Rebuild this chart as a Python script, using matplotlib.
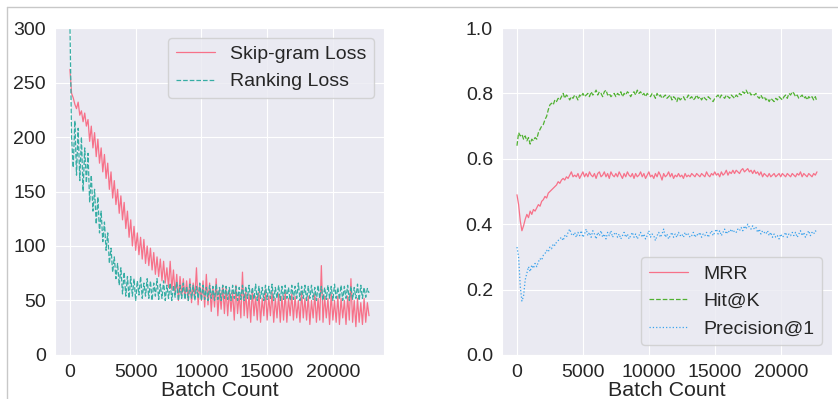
import numpy as np
import matplotlib
matplotlib.use("Agg")
import matplotlib.pyplot as plt
import seaborn as sns
from matplotlib.lines import Line2D

# batch count sampled every 125 batches (183 points, 0 .. 22750)
batch_count = np.arange(0, 22751, 125)

skipgram_loss = [262, 240, 236, 230, 226, 232, 220, 224, 214, 222, 210, 216,
                 196, 210, 190, 204, 182, 198, 176, 190, 168, 184, 162, 176,
                 152, 168, 144, 160, 138, 152, 130, 146, 124, 140, 116, 132,
                 108, 124, 100, 118, 96, 112, 92, 108, 88, 106, 84, 100,
                 82, 98, 78, 94, 74, 90, 72, 88, 68, 86, 66, 80,
                 62, 86, 60, 78, 56, 74, 50, 72, 54, 70, 52, 68,
                 50, 70, 48, 66, 52, 80, 46, 64, 50, 68, 44, 74,
                 46, 66, 40, 62, 44, 70, 36, 60, 42, 64, 38, 62,
                 36, 60, 40, 58, 32, 64, 38, 56, 34, 76, 36, 58,
                 34, 56, 30, 60, 36, 54, 32, 58, 30, 52, 36, 60,
                 32, 54, 36, 58, 30, 52, 34, 56, 30, 54, 32, 58,
                 30, 52, 36, 56, 32, 54, 34, 50, 30, 58, 34, 52,
                 32, 54, 28, 50, 34, 56, 30, 52, 32, 82, 30, 54,
                 34, 52, 28, 56, 32, 50, 30, 54, 28, 52, 34, 50,
                 28, 54, 32, 70, 30, 50, 26, 52, 30, 48, 28, 52,
                 30, 48, 36]

ranking_loss = [305, 200, 172, 215, 165, 208, 160, 200, 150, 190, 158, 185,
                140, 165, 132, 152, 120, 145, 112, 132, 104, 122, 96, 112,
                84, 98, 76, 90, 70, 84, 64, 80, 56, 76, 54, 72,
                52, 72, 54, 70, 50, 68, 55, 72, 52, 66, 54, 70,
                52, 68, 50, 66, 54, 70, 51, 65, 52, 68, 50, 64,
                52, 66, 50, 64, 53, 67, 50, 64, 52, 66, 51, 63,
                50, 65, 52, 64, 50, 63, 52, 66, 50, 64, 51, 62,
                50, 64, 52, 63, 50, 65, 51, 62, 50, 64, 52, 63,
                51, 62, 50, 64, 52, 63, 50, 62, 51, 64, 50, 63,
                52, 64, 50, 62, 51, 65, 50, 63, 52, 62, 50, 64,
                51, 63, 52, 65, 50, 62, 52, 64, 50, 63, 51, 64,
                52, 62, 50, 64, 51, 63, 52, 66, 50, 63, 52, 64,
                50, 63, 52, 64, 51, 62, 50, 64, 52, 63, 50, 62,
                51, 64, 52, 63, 50, 65, 52, 62, 51, 64, 50, 63,
                52, 64, 50, 63, 51, 62, 52, 65, 50, 64, 52, 62,
                53, 61, 57]

mrr = [0.49, 0.46, 0.41, 0.38, 0.395, 0.415, 0.43, 0.42, 0.44, 0.43, 0.445, 0.44,
       0.45, 0.46, 0.455, 0.47, 0.475, 0.485, 0.48, 0.495, 0.50, 0.505, 0.51, 0.515,
       0.52, 0.53, 0.525, 0.535, 0.54, 0.535, 0.545, 0.54, 0.55, 0.56, 0.545, 0.55,
       0.545, 0.555, 0.54, 0.55, 0.56, 0.545, 0.555, 0.545, 0.56, 0.55, 0.545, 0.555,
       0.54, 0.555, 0.56, 0.545, 0.55, 0.56, 0.545, 0.555, 0.54, 0.56, 0.55, 0.545,
       0.555, 0.545, 0.56, 0.55, 0.54, 0.555, 0.545, 0.56, 0.55, 0.545, 0.555, 0.54,
       0.555, 0.545, 0.55, 0.56, 0.545, 0.555, 0.54, 0.55, 0.56, 0.545, 0.55, 0.54,
       0.555, 0.545, 0.56, 0.55, 0.535, 0.555, 0.545, 0.55, 0.56, 0.545, 0.555, 0.54,
       0.55, 0.545, 0.555, 0.545, 0.55, 0.54, 0.555, 0.545, 0.55, 0.545, 0.555, 0.55,
       0.545, 0.555, 0.55, 0.545, 0.555, 0.55, 0.545, 0.56, 0.55, 0.545, 0.555, 0.55,
       0.56, 0.55, 0.555, 0.545, 0.56, 0.55, 0.555, 0.565, 0.55, 0.56, 0.555, 0.565,
       0.555, 0.565, 0.56, 0.555, 0.565, 0.57, 0.56, 0.565, 0.57, 0.56, 0.565, 0.555,
       0.565, 0.555, 0.56, 0.55, 0.56, 0.545, 0.555, 0.55, 0.545, 0.555, 0.545, 0.55,
       0.555, 0.545, 0.55, 0.555, 0.545, 0.555, 0.55, 0.545, 0.555, 0.55, 0.545, 0.555,
       0.55, 0.545, 0.555, 0.55, 0.56, 0.545, 0.555, 0.55, 0.545, 0.555, 0.55, 0.545,
       0.555, 0.55, 0.56]

hit_at_k = [0.64, 0.68, 0.67, 0.675, 0.66, 0.67, 0.655, 0.665, 0.645, 0.66, 0.655, 0.665,
            0.66, 0.68, 0.69, 0.70, 0.705, 0.72, 0.73, 0.75, 0.765, 0.77, 0.765, 0.78,
            0.775, 0.785, 0.78, 0.79, 0.80, 0.785, 0.795, 0.79, 0.78, 0.79, 0.785, 0.795,
            0.79, 0.78, 0.795, 0.79, 0.80, 0.79, 0.795, 0.80, 0.79, 0.805, 0.795, 0.80,
            0.81, 0.795, 0.805, 0.80, 0.79, 0.805, 0.81, 0.795, 0.80, 0.79, 0.795, 0.80,
            0.79, 0.80, 0.795, 0.805, 0.79, 0.80, 0.795, 0.805, 0.80, 0.79, 0.80, 0.805,
            0.795, 0.81, 0.80, 0.805, 0.795, 0.80, 0.79, 0.80, 0.795, 0.79, 0.80, 0.795,
            0.785, 0.80, 0.79, 0.795, 0.785, 0.79, 0.795, 0.785, 0.79, 0.795, 0.78, 0.79,
            0.785, 0.775, 0.79, 0.78, 0.785, 0.79, 0.78, 0.785, 0.795, 0.785, 0.79, 0.78,
            0.785, 0.795, 0.785, 0.79, 0.78, 0.79, 0.785, 0.78, 0.79, 0.785, 0.78, 0.775,
            0.785, 0.79, 0.795, 0.785, 0.795, 0.79, 0.785, 0.795, 0.79, 0.785, 0.795, 0.79,
            0.785, 0.795, 0.79, 0.80, 0.795, 0.805, 0.80, 0.81, 0.80, 0.805, 0.795, 0.80,
            0.795, 0.80, 0.79, 0.785, 0.795, 0.785, 0.79, 0.78, 0.785, 0.775, 0.785, 0.78,
            0.775, 0.785, 0.78, 0.79, 0.785, 0.78, 0.79, 0.795, 0.785, 0.80, 0.795, 0.805,
            0.80, 0.79, 0.795, 0.785, 0.79, 0.795, 0.785, 0.79, 0.78, 0.79, 0.785, 0.79,
            0.78, 0.79, 0.775]

precision_at_1 = [0.33, 0.30, 0.21, 0.165, 0.18, 0.23, 0.25, 0.27, 0.255, 0.275, 0.265, 0.28,
                  0.27, 0.285, 0.295, 0.29, 0.305, 0.31, 0.32, 0.315, 0.33, 0.325, 0.34, 0.335,
                  0.345, 0.35, 0.355, 0.36, 0.35, 0.365, 0.36, 0.375, 0.385, 0.37, 0.365, 0.375,
                  0.36, 0.375, 0.365, 0.38, 0.36, 0.37, 0.385, 0.365, 0.375, 0.36, 0.38, 0.37,
                  0.355, 0.375, 0.365, 0.38, 0.36, 0.37, 0.355, 0.375, 0.365, 0.38, 0.36, 0.37,
                  0.375, 0.36, 0.37, 0.355, 0.365, 0.375, 0.36, 0.37, 0.355, 0.365, 0.375, 0.36,
                  0.37, 0.355, 0.365, 0.375, 0.36, 0.37, 0.355, 0.365, 0.38, 0.36, 0.37, 0.365,
                  0.35, 0.365, 0.375, 0.36, 0.37, 0.385, 0.36, 0.37, 0.355, 0.365, 0.375, 0.36,
                  0.37, 0.36, 0.375, 0.365, 0.37, 0.36, 0.375, 0.365, 0.37, 0.36, 0.365, 0.375,
                  0.36, 0.37, 0.365, 0.375, 0.36, 0.37, 0.365, 0.375, 0.36, 0.37, 0.38, 0.365,
                  0.375, 0.385, 0.37, 0.38, 0.365, 0.375, 0.385, 0.37, 0.38, 0.375, 0.385, 0.375,
                  0.38, 0.375, 0.385, 0.38, 0.39, 0.38, 0.395, 0.385, 0.40, 0.39, 0.385, 0.395,
                  0.385, 0.39, 0.375, 0.385, 0.37, 0.38, 0.375, 0.37, 0.38, 0.365, 0.375, 0.36,
                  0.37, 0.36, 0.365, 0.355, 0.37, 0.36, 0.365, 0.375, 0.36, 0.37, 0.365, 0.375,
                  0.365, 0.375, 0.36, 0.37, 0.38, 0.365, 0.375, 0.36, 0.37, 0.38, 0.365, 0.375,
                  0.37, 0.38, 0.375]

sns.set_style("darkgrid")
plt.rcParams['font.family'] = ['Liberation Sans', 'DejaVu Sans']

pal2 = sns.color_palette("husl", 2)
pal3 = sns.color_palette("husl", 3)

fig = plt.figure(figsize=(8.38, 3.99), dpi=100)
ax1 = fig.add_axes([0.0656, 0.1103, 0.3926, 0.8195])
ax2 = fig.add_axes([0.599, 0.1103, 0.3938, 0.8195])

ax1.plot(batch_count, skipgram_loss, linestyle='-', linewidth=0.9, color=pal2[0], label='Skip-gram Loss')
ax1.plot(batch_count, ranking_loss, linestyle='--', linewidth=0.9, color=pal2[1], label='Ranking Loss')
ax1.set_ylim(0, 300)
ax1.set_xticks([0, 5000, 10000, 15000, 20000])
ax1.set_xlabel('Batch Count', fontsize=15.4, labelpad=0)
ax1.tick_params(labelsize=14, pad=3)
ax1.legend(loc='upper right', fontsize=14)

ax2.plot(batch_count, mrr, linestyle='-', linewidth=0.9, color=pal3[0], label='MRR')
ax2.plot(batch_count, hit_at_k, linestyle='--', linewidth=0.9, color=pal3[1], label='Hit@K')
ax2.plot(batch_count, precision_at_1, linestyle=':', linewidth=0.9, color=pal3[2], label='Precision@1')
ax2.set_ylim(0, 1)
ax2.set_xticks([0, 5000, 10000, 15000, 20000])
ax2.set_xlabel('Batch Count', fontsize=15.4, labelpad=0)
ax2.tick_params(labelsize=14, pad=3)
ax2.legend(loc='lower right', fontsize=14)

# thin frame from the original screenshot
fig.add_artist(Line2D([7 / 838, 1], [1 - 7 / 399, 1 - 7 / 399], color='#c8c8c8', linewidth=1))
fig.add_artist(Line2D([7 / 838, 7 / 838], [0, 1 - 7 / 399], color='#c8c8c8', linewidth=1))

plt.savefig('out.png', dpi=100)
plt.close()
